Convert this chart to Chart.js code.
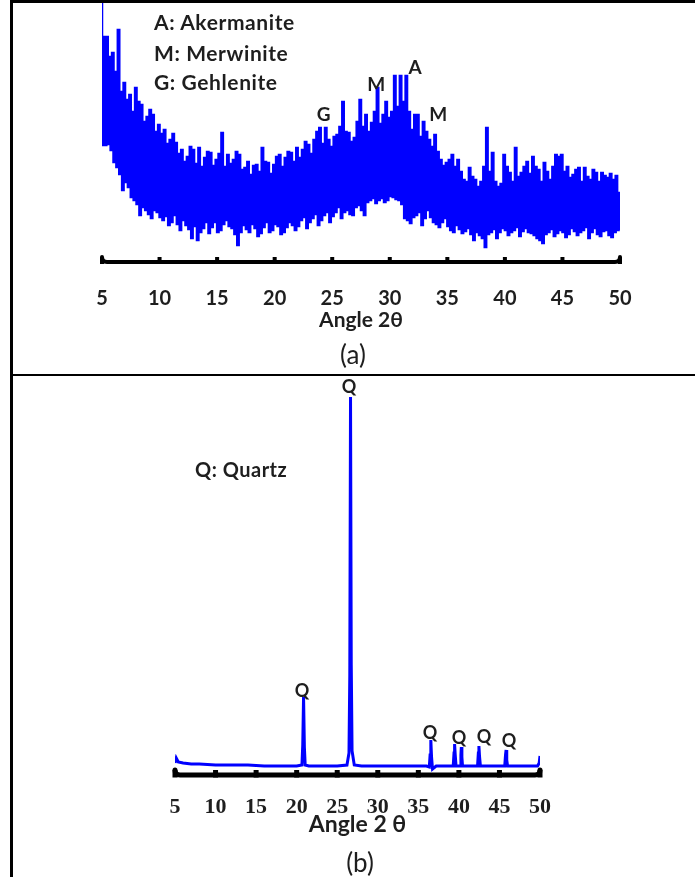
<!DOCTYPE html>
<html><head><meta charset="utf-8">
<script src="https://cdn.jsdelivr.net/npm/chart.js@4.4.1/dist/chart.umd.min.js"></script>
<style>
html,body{margin:0;padding:0;background:#fff;}
body{width:695px;height:877px;position:relative;overflow:hidden;font-family:Lato, "Open Sans", sans-serif;}
.bd{position:absolute;background:#000;}
canvas{position:absolute;left:0;}
#ca{top:0;}
#cb{top:375px;}
.t{position:absolute;color:#1e1e1e;white-space:nowrap;line-height:1;}
.leg{font-weight:bold;font-size:21px;letter-spacing:0.6px;left:154px;transform:translateY(-50%);}
.cap{font-size:26px;transform:translate(-50%,-50%);}
</style></head><body>
<div class="bd" style="left:11px;top:0;width:684px;height:3px"></div>
<div class="bd" style="left:10px;top:0;width:3px;height:877px"></div>
<div class="bd" style="left:10px;top:374px;width:685px;height:2px"></div>
<canvas id="ca" width="695" height="375"></canvas>
<canvas id="cb" width="695" height="502"></canvas>
<div class="t leg" style="top:21px">A: Akermanite</div>
<div class="t leg" style="top:52px">M: Merwinite</div>
<div class="t leg" style="top:81px">G: Gehlenite</div>
<div class="t cap" style="left:353px;top:354px">(a)</div>
<div class="t leg" style="left:195px;top:469px;font-size:20px;letter-spacing:0.5px">Q: Quartz</div>
<div class="t cap" style="left:360px;top:862px">(b)</div>
<script>
// ---------- Panel (a): slag XRD pattern (upper and lower readings of the noisy trace at each angle) ----------
const anglesA = [5,5.25,5.5,5.75,6,6.25,6.5,6.75,7,7.25,7.5,7.75,8,8.25,8.5,8.75,9,9.25,9.5,9.75,
10,10.25,10.5,10.75,11,11.25,11.5,11.75,12,12.25,12.5,12.75,13,13.25,13.5,13.75,14,14.25,14.5,14.75,
15,15.25,15.5,15.75,16,16.25,16.5,16.75,17,17.25,17.5,17.75,18,18.25,18.5,18.75,19,19.25,19.5,19.75,
20,20.25,20.5,20.75,21,21.25,21.5,21.75,22,22.25,22.5,22.75,23,23.25,23.5,23.75,24,24.25,24.5,24.75,
25,25.25,25.5,25.75,26,26.25,26.5,26.75,27,27.25,27.5,27.75,28,28.25,28.5,28.75,29,29.25,29.5,29.75,
30,30.25,30.5,30.75,31,31.25,31.5,31.75,32,32.25,32.5,32.75,33,33.25,33.5,33.75,34,34.25,34.5,34.75,
35,35.25,35.5,35.75,36,36.25,36.5,36.75,37,37.25,37.5,37.75,38,38.25,38.5,38.75,39,39.25,39.5,39.75,
40,40.25,40.5,40.75,41,41.25,41.5,41.75,42,42.25,42.5,42.75,43,43.25,43.5,43.75,44,44.25,44.5,44.75,
45,45.25,45.5,45.75,46,46.25,46.5,46.75,47,47.25,47.5,47.75,48,48.25,48.5,48.75,49,49.25,49.5,49.75,50];
const upperA = [259,225,225,205,209,190,232,170,179,162,
167,150,174,160,157,140,145,152,147,130,
137,128,132,118,122,128,119,108,112,100,
105,115,112,98,114,95,104,110,109,96,
102,108,129,95,107,98,102,110,107,92,
94,100,87,96,97,90,114,100,99,88,
97,105,107,95,104,110,109,100,114,104,
112,120,117,108,122,130,134,118,134,122,
115,125,127,135,160,130,129,120,124,140,
162,135,147,130,139,150,174,138,147,160,
144,150,186,155,186,160,186,150,132,147,
147,125,140,130,122,115,127,110,102,96,
99,102,107,95,102,90,82,80,94,85,
82,75,80,95,134,90,109,80,75,78,
107,95,89,80,114,85,89,95,100,88,
105,95,92,80,99,90,82,95,107,105,
107,90,95,84,87,92,94,80,94,85,
82,92,89,80,89,86,84,88,82,86,
69];
const lowerA = [117,117,118,112,100,95,88,72,80,75,
65,62,58,47,55,52,48,44,52,50,
45,42,46,37,40,47,38,32,42,37,
33,24,36,22,30,34,40,29,35,40,
30,32,38,42,36,34,28,17,30,37,
33,30,38,34,26,29,35,40,30,32,
38,36,28,30,35,40,37,32,36,42,
45,34,40,44,48,37,42,47,50,40,
46,50,55,44,50,52,48,47,55,57,
52,47,60,62,64,59,62,64,60,62,
66,65,63,62,58,44,42,39,45,47,
50,37,44,52,45,40,38,35,40,44,
36,32,30,37,33,29,31,34,28,22,
30,27,24,15,28,30,33,24,30,34,
32,27,30,32,35,26,31,34,30,29,
27,24,22,19,28,30,33,26,29,32,
30,25,28,34,31,27,30,32,35,24,
30,34,28,26,31,32,27,25,30,32,
32];
const ticksA = [5,10,15,20,25,30,35,40,45,50];
const peakTextA = ['G','M','A','M'];
const peakAngleA = [24.25,28.83,32.2,34.2];
const peakLevelA = [147,177,194,147];

// ---------- Panel (b): quartz XRD pattern ----------
const anglesB = [5,5.15,5.4,6,7,8,10,12,14,16,18,20,20.65,20.75,20.85,20.95,21.05,21.5,23,25,
26.2,26.45,26.55,26.64,26.73,26.83,27.1,28,30,32,34,36,36.35,36.45,36.54,36.63,36.75,37.2,38.5,
39.3,39.4,39.47,39.55,39.65,40.15,40.25,40.3,40.37,40.45,41.2,42.3,42.4,42.47,42.55,42.65,44,
45.65,45.75,45.82,45.9,46,47.5,49,49.7,49.9,50];
const intensityB = [12,17,13,12,11,11,10,10,10,9,9,9,10,30,78,28,10,9,9,9,
10,22,100,378,110,24,10,9,9,9,9,9,8,20,35,18,6,9,9,
9,22,31,20,9,9,20,28,18,9,9,9,22,29,18,9,9,
9,20,25,15,9,9,9,9,12,19];
const ticksB = [5,10,15,20,25,30,35,40,45,50];
const peakTextB = ['Q','Q','Q','Q','Q','Q'];
const peakAngleB = [26.45,20.66,36.44,40.02,43.1,46.18];
const peakLevelB = [388,84,42,37,38,34];

const axisLine = {
  id:'axisLine',
  afterDatasetsDraw(chart, args, o){
    const {ctx, chartArea, scales:{x}} = chart;
    const y0 = chartArea.bottom;
    const xl = x.getPixelForValue(x.min), xr = x.getPixelForValue(x.max);
    ctx.save();
    ctx.strokeStyle = '#000'; ctx.fillStyle = '#000';
    ctx.lineWidth = o.width; ctx.lineCap = 'round';
    ctx.beginPath();
    ctx.moveTo(xl, y0 - o.curl);
    ctx.quadraticCurveTo(xl, y0, xl + o.curl, y0);
    ctx.lineTo(xr - o.curl, y0);
    ctx.quadraticCurveTo(xr, y0, xr, y0 - o.curl);
    ctx.stroke();
    o.ticks.forEach(v => {
      const px = x.getPixelForValue(v);
      ctx.fillRect(px - o.tickW/2, y0 - o.tickUp, o.tickW, o.tickUp + o.width/2);
    });
    ctx.restore();
  }
};
const peakLabels = {
  id:'peakLabels',
  afterDatasetsDraw(chart, args, o){
    const {ctx, scales:{x, y}} = chart;
    ctx.save();
    ctx.fillStyle = '#1e1e1e';
    ctx.font = o.font;
    ctx.textAlign = 'center'; ctx.textBaseline = 'middle';
    o.text.forEach((t, i) => ctx.fillText(t, x.getPixelForValue(o.angle[i]), y.getPixelForValue(o.level[i])));
    ctx.restore();
  }
};

function pts(a, v){ return a.map((d, i) => ({x:d, y:v[i]})); }
const traceA = [];
anglesA.forEach((a, i) => { traceA.push({x:a, y:upperA[i]}, {x:a, y:lowerA[i]}); });

new Chart(document.getElementById('ca'), {
  type:'line',
  data:{datasets:[{data:traceA, borderColor:'#0000ff', borderWidth:2.5, pointRadius:0, stepped:'middle', fill:false}]},
  options:{
    responsive:false, animation:false, events:[], devicePixelRatio:1, parsing:false,
    layout:{padding:{left:102, right:75, top:2, bottom:44.5}},
    plugins:{legend:{display:false}, tooltip:{enabled:false},
      axisLine:{width:4, curl:5, tickW:4, tickUp:5, ticks:ticksA},
      peakLabels:{font:'bold 19px Lato', text:peakTextA, angle:peakAngleA, level:peakLevelA}},
    scales:{
      x:{type:'linear', min:5, max:50,
        afterBuildTicks: s => { s.ticks = ticksA.map(v => ({value:v})); },
        ticks:{font:{family:'Lato', size:20, weight:'bold', lineHeight:1}, color:'#1e1e1e', padding:27, maxRotation:0},
        grid:{display:false, drawTicks:false}, border:{display:false},
        title:{display:true, text:'Angle 2θ', color:'#1e1e1e', font:{family:'Lato', size:21, weight:'bold', lineHeight:1}, padding:{top:-26.5, bottom:0}}},
      y:{display:false, min:0, max:260}
    }
  },
  plugins:[axisLine, peakLabels]
});

new Chart(document.getElementById('cb'), {
  type:'line',
  data:{datasets:[{data:pts(anglesB, intensityB), borderColor:'#0000ff', borderWidth:3, pointRadius:0, tension:0, fill:false}]},
  options:{
    responsive:false, animation:false, events:[], devicePixelRatio:1,
    layout:{padding:{left:175, right:155, top:10, bottom:40.5}},
    plugins:{legend:{display:false}, tooltip:{enabled:false},
      axisLine:{width:5, curl:5, tickW:5, tickUp:5, ticks:ticksB},
      peakLabels:{font:'bold 18px Lato', text:peakTextB, angle:peakAngleB, level:peakLevelB}},
    scales:{
      x:{type:'linear', min:5, max:50,
        afterBuildTicks: s => { s.ticks = ticksB.map(v => ({value:v})); },
        ticks:{font:{family:'"Liberation Serif"', size:22, weight:'bold', lineHeight:1}, color:'#1e1e1e', padding:21, maxRotation:0},
        grid:{display:false, drawTicks:false}, border:{display:false},
        title:{display:true, text:'Angle 2 θ', color:'#1e1e1e', font:{family:'Lato', size:23, weight:'bold', lineHeight:1}, padding:{top:-25.5, bottom:0}}},
      y:{display:false, min:0, max:390}
    }
  },
  plugins:[axisLine, peakLabels]
});
</script>
</body></html>
